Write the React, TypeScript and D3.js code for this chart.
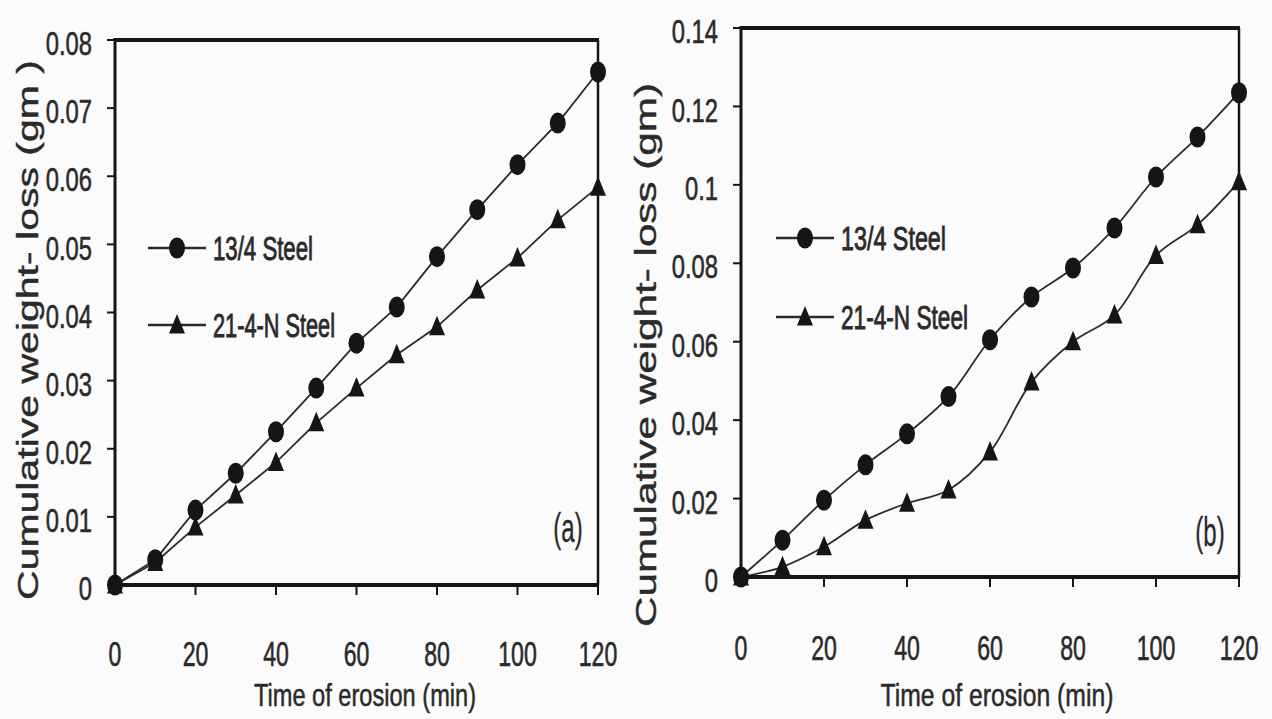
import React from 'react';
import * as d3 from 'd3';

// ---------- data ----------
const times = [0, 10, 20, 30, 40, 50, 60, 70, 80, 90, 100, 110, 120];
const seriesNames = ['13/4 Steel', '21-4-N Steel'];

// panel (a)
const lossA_134 = [0, 0.0037, 0.011, 0.0164, 0.0225, 0.0289, 0.0355, 0.0408, 0.0482, 0.0551, 0.0617, 0.0678, 0.0753];
const lossA_214N = [0, 0.0033, 0.0085, 0.0132, 0.018, 0.0238, 0.0289, 0.0338, 0.0379, 0.0433, 0.048, 0.0536, 0.0584];
// panel (b)
const lossB_134 = [0, 0.0094, 0.0196, 0.0286, 0.0365, 0.046, 0.0605, 0.0714, 0.0788, 0.089, 0.102, 0.1122, 0.1235];
const lossB_214N = [0, 0.0026, 0.0077, 0.0145, 0.0188, 0.0222, 0.0319, 0.0497, 0.06, 0.0668, 0.082, 0.0898, 0.1008];

const xTicks = [0, 20, 40, 60, 80, 100, 120];
const yTicksA = [0, 0.01, 0.02, 0.03, 0.04, 0.05, 0.06, 0.07, 0.08];
const yTickLabelsA = ['0', '0.01', '0.02', '0.03', '0.04', '0.05', '0.06', '0.07', '0.08'];
const yTicksB = [0, 0.02, 0.04, 0.06, 0.08, 0.1, 0.12, 0.14];
const yTickLabelsB = ['0', '0.02', '0.04', '0.06', '0.08', '0.1', '0.12', '0.14'];

const xTitle = 'Time of erosion (min)';
const yTitleA = 'Cumulative weight- loss (gm )';
const yTitleB = 'Cumulative weight- loss (gm)';

const FONT = '"Liberation Sans", Arial, sans-serif';
const INK = '#151515';
const TEXT = '#2a2a2a';

type STextProps = {
  x: number; y: number; sx?: number; size: number; anchor?: string;
  rotate?: number; children: React.ReactNode; textLength?: number; bold?: number;
};
const SText = ({ x, y, sx = 0.7, size, anchor = 'middle', rotate = 0, children, textLength, bold = 0.6 }: STextProps) => (
  <g transform={`translate(${x},${y}) rotate(${rotate}) scale(${sx},1)`}>
    <text
      fontFamily={FONT}
      fontSize={size}
      textAnchor={anchor}
      dominantBaseline="central"
      fill={TEXT}
      stroke={TEXT}
      strokeWidth={bold}
      textLength={textLength}
      lengthAdjust={textLength ? 'spacingAndGlyphs' : undefined}
    >
      {children}
    </text>
  </g>
);

const Circle = ({ x, y }: { x: number; y: number }) => (
  <ellipse cx={x} cy={y} rx={8} ry={10.5} fill={INK} />
);
const Tri = ({ x, y }: { x: number; y: number }) => (
  <path d={`M${x},${y - 11}L${x + 8},${y + 8.5}L${x - 8},${y + 8.5}Z`} fill={INK} />
);

type PanelProps = {
  left: number; right: number; top: number; bottom: number;
  yMax: number; yTicks: number[]; yTickLabels: string[];
  s1: number[]; s2: number[]; smooth: boolean;
  legendX: number; legendY1: number; legendY2: number; legendText1W: number; legendText2W: number;
  tag: string; tagX: number; tagY: number;
  xLabY: number; titleX: number; titleW: number; titleY: number;
  yTitle: string; yTitleX: number; yTitleY: number; yTitleW: number;
};

const Panel = (p: PanelProps) => {
  const x = d3.scaleLinear().domain([0, 120]).range([p.left, p.right]);
  const y = d3.scaleLinear().domain([0, p.yMax]).range([p.bottom, p.top]);
  const line = d3
    .line<number>()
    .x((_, i) => x(times[i]))
    .y((d) => y(d))
    .curve(p.smooth ? d3.curveCatmullRom.alpha(0.5) : d3.curveLinear);

  return (
    <g>
      {/* data lines */}
      <path d={line(p.s1) || ''} fill="none" stroke="#2b2b2b" strokeWidth={1.8} />
      <path d={line(p.s2) || ''} fill="none" stroke="#2b2b2b" strokeWidth={1.8} />

      {/* frame */}
      <line x1={p.left} x2={p.right + 1} y1={p.top} y2={p.top} stroke={INK} strokeWidth={4} />
      <line x1={p.right} x2={p.right} y1={p.top} y2={p.bottom} stroke={INK} strokeWidth={2.5} />
      <line x1={p.left} x2={p.left} y1={p.top - 2} y2={p.bottom} stroke={INK} strokeWidth={3} />
      <line x1={p.left} x2={p.right + 1} y1={p.bottom} y2={p.bottom} stroke={INK} strokeWidth={4} />

      {/* y ticks */}
      {p.yTicks.map((t, i) => (
        <g key={'y' + i}>
          <line x1={p.left - 8} x2={p.left} y1={y(t)} y2={y(t)} stroke={INK} strokeWidth={2} />
          <SText x={p.left - 23} y={y(t) + 3} size={34} sx={0.7} anchor="end">
            {p.yTickLabels[i]}
          </SText>
        </g>
      ))}

      {/* x ticks */}
      {xTicks.map((t) => (
        <g key={'x' + t}>
          <line x1={x(t)} x2={x(t)} y1={p.bottom} y2={p.bottom + 10} stroke={INK} strokeWidth={2} />
          <SText x={x(t)} y={p.xLabY} size={35} sx={0.66}>
            {String(t)}
          </SText>
        </g>
      ))}

      {/* markers */}
      {p.s1.map((v, i) => (
        <Circle key={'c' + i} x={x(times[i])} y={y(v)} />
      ))}
      {p.s2.map((v, i) => (
        <Tri key={'t' + i} x={x(times[i])} y={y(v)} />
      ))}

      {/* legend */}
      <line x1={p.legendX} x2={p.legendX + 58} y1={p.legendY1} y2={p.legendY1} stroke="#2b2b2b" strokeWidth={2.4} />
      <Circle x={p.legendX + 29} y={p.legendY1} />
      <SText x={p.legendX + 65} y={p.legendY1} size={34} anchor="start" sx={1} textLength={p.legendText1W} bold={0.9}>
        {seriesNames[0]}
      </SText>
      <line x1={p.legendX} x2={p.legendX + 58} y1={p.legendY2} y2={p.legendY2} stroke="#2b2b2b" strokeWidth={2.4} />
      <Tri x={p.legendX + 29} y={p.legendY2} />
      <SText x={p.legendX + 65} y={p.legendY2} size={34} anchor="start" sx={1} textLength={p.legendText2W} bold={0.9}>
        {seriesNames[1]}
      </SText>

      {/* panel tag */}
      <SText x={p.tagX} y={p.tagY} size={40} sx={0.6} bold={0.3}>
        {p.tag}
      </SText>

      {/* axis titles */}
      <SText x={p.titleX} y={p.titleY} size={32} sx={1} textLength={p.titleW} bold={0.5}>
        {xTitle}
      </SText>
      <SText x={p.yTitleX} y={p.yTitleY} size={30} sx={1} rotate={-90} textLength={p.yTitleW} bold={0.4}>
        {p.yTitle}
      </SText>
    </g>
  );
};

export default function App() {
  return (
    <svg
      width={1272}
      height={719}
      viewBox="0 0 1272 719"
      style={{ position: 'absolute', left: 0, top: 0, background: '#fbfbfb' }}
    >
      <rect x={0} y={0} width={1272} height={719} fill="#fbfbfb" />
      <Panel
        left={115} right={598} top={40} bottom={585}
        yMax={0.08} yTicks={yTicksA} yTickLabels={yTickLabelsA}
        s1={lossA_134} s2={lossA_214N} smooth={false}
        legendX={148} legendY1={248} legendY2={325} legendText1W={100} legendText2W={122}
        tag="(a)" tagX={568} tagY={528}
        xLabY={654} titleX={365} titleW={222} titleY={695}
        yTitle={yTitleA} yTitleX={27} yTitleY={330} yTitleW={540}
      />
      <Panel
        left={741} right={1239} top={28} bottom={577}
        yMax={0.14} yTicks={yTicksB} yTickLabels={yTickLabelsB}
        s1={lossB_134} s2={lossB_214N} smooth={true}
        legendX={776} legendY1={238} legendY2={317} legendText1W={105} legendText2W={127}
        tag="(b)" tagX={1210} tagY={532}
        xLabY={648} titleX={997} titleW={233} titleY={695}
        yTitle={yTitleB} yTitleX={645} yTitleY={355} yTitleW={544}
      />
    </svg>
  );
}
